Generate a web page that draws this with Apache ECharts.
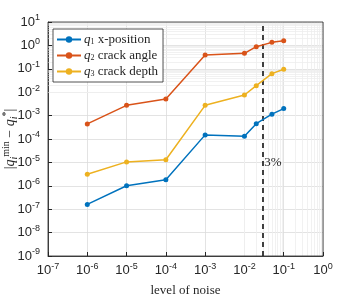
<!DOCTYPE html>
<html><head><meta charset="utf-8">
<script src="https://cdn.jsdelivr.net/npm/echarts@6/dist/echarts.min.js"></script>
<style>html,body{margin:0;padding:0;background:#fff}#c{width:357px;height:298px}</style>
</head><body><div id="c"></div>
<script>
const noise = [1e-6, 1e-5, 1e-4, 1e-3, 1e-2, 0.02, 0.05, 0.1];
const q1 = [1.6e-7, 1.0e-6, 1.8e-6, 1.5e-4, 1.3e-4, 4.5e-4, 1.15e-3, 2.0e-3];
const q2 = [4.4e-4, 2.75e-3, 5.1e-3, 0.39, 0.46, 0.88, 1.35, 1.58];
const q3 = [3.1e-6, 1.05e-5, 1.3e-5, 2.75e-3, 7.6e-3, 0.019, 0.062, 0.095];
const seriesNames = ['q1', 'q2', 'q3'];
const legendText = {q1: ['1', 'x-position'], q2: ['2', 'crack angle'], q3: ['3', 'crack depth']};
const threshold = 0.03;
const thresholdLabel = '3%';
const thresholdLabelY = 1e-5;
const xMin = 1e-7, xMax = 1;
const yMin = 1e-9, yMax = 10;

function minorValues(lo, hi) {
  const out = [];
  for (let e = Math.round(Math.log10(lo)); e < Math.round(Math.log10(hi)); e++) {
    for (let k = 2; k <= 9; k++) out.push(k * Math.pow(10, e));
  }
  return out;
}
const xMinor = minorValues(xMin, xMax);
const yMinor = minorValues(yMin, yMax);

function expLabel(v) {
  const e = Math.round(Math.log10(v));
  return '{b|10}{s|' + e + '}';
}
const tickRich = {
  b: {fontFamily: 'Liberation Sans', fontSize: 13, color: '#262626'},
  s: {fontFamily: 'Liberation Sans', fontSize: 9, color: '#262626', verticalAlign: 'top', padding: [0, 0, 8, 0]}
};
const serif = 'Liberation Serif';
const colors = ['#0072BD', '#D95319', '#EDB120'];

const chart = echarts.init(document.getElementById('c'), null, {renderer: 'canvas'});
chart.setOption({
  animation: false,
  grid: {left: 48, right: 34, top: 22, bottom: 42, containLabel: false, outerBoundsMode: 'none',
    show: true, borderColor: '#262626', borderWidth: 0.8, z: 5},
  xAxis: {
    type: 'log', logBase: 10, min: xMin, max: xMax,
    name: 'level of noise', nameLocation: 'middle', nameGap: 28, nameMoveOverlap: false,
    nameTextStyle: {fontFamily: serif, fontSize: 13, color: '#262626'},
    axisLine: {lineStyle: {color: '#262626', width: 0.8}},
    axisTick: {inside: true, length: 4, lineStyle: {color: '#262626'}},
    axisLabel: {formatter: expLabel, rich: tickRich, margin: 6},
    splitLine: {show: true, lineStyle: {color: '#dcdcdc', width: 0.8}}
  },
  yAxis: {
    type: 'log', logBase: 10, min: yMin, max: yMax,
    name: '{t||}{it|q}{sub|i}{sup|min}{t| − }{it|q}{sub|i}{sup|*}{t||}',
    nameLocation: 'middle', nameGap: 29, nameMoveOverlap: false,
    nameTextStyle: {
      rich: {
        t: {fontFamily: serif, fontSize: 14, color: '#262626'},
        it: {fontFamily: serif, fontStyle: 'italic', fontSize: 14, color: '#262626'},
        sub: {fontFamily: serif, fontStyle: 'italic', fontSize: 10, color: '#262626', verticalAlign: 'bottom', padding: [7, 0, 0, 0]},
        sup: {fontFamily: serif, fontSize: 10, color: '#262626', verticalAlign: 'top', padding: [0, 0, 8, 0]}
      }
    },
    axisLine: {lineStyle: {color: '#262626', width: 0.8}},
    axisTick: {inside: true, length: 4, lineStyle: {color: '#262626'}},
    axisLabel: {formatter: expLabel, rich: tickRich, margin: 8},
    splitLine: {show: true, lineStyle: {color: '#dcdcdc', width: 0.8}}
  },
  legend: {
    data: seriesNames, orient: 'vertical', left: 53, top: 29,
    backgroundColor: '#fff', borderColor: '#262626', borderWidth: 0.8, borderRadius: 0,
    padding: [4, 5, 4, 3], itemGap: 3, itemWidth: 24, itemHeight: 8,
    formatter: n => '{it|q}{sub|' + legendText[n][0] + '} ' + legendText[n][1],
    textStyle: {
      color: '#262626', padding: [0, 0, 0, -2],
      rich: {
        it: {fontFamily: serif, fontStyle: 'italic', fontSize: 13, color: '#262626'},
        sub: {fontFamily: serif, fontSize: 8, color: '#262626', verticalAlign: 'bottom', padding: [5, 0, 0, 0]}
      },
      fontFamily: serif, fontSize: 13
    },
    z: 20
  },
  series: [
    {
      type: 'line', name: '_grid', data: [], silent: true, z: 1,
      markLine: {
        z: 1, silent: true, symbol: 'none', label: {show: false}, animation: false,
        lineStyle: {color: '#eeeeee', width: 0.8, type: 'solid'},
        data: xMinor.map(v => ({xAxis: v})).concat(yMinor.map(v => ({yAxis: v})))
      }
    },
    {
      type: 'line', name: '_thr', data: [], silent: true, z: 3,
      markLine: {
        z: 3, silent: true, symbol: 'none', animation: false,
        lineStyle: {color: '#404040', width: 2, type: [5, 4]},
        label: {show: false},
        data: [{xAxis: threshold}]
      },
      markPoint: {
        z: 3, symbol: 'circle', symbolSize: 0, silent: true,
        label: {show: true, formatter: thresholdLabel, position: 'right', distance: 1, fontFamily: serif, fontSize: 13, color: '#262626'},
        data: [{coord: [threshold, thresholdLabelY]}]
      }
    }
  ].concat([q1, q2, q3].map((d, i) => ({
    type: 'line', name: seriesNames[i], z: 10,
    data: noise.map((x, j) => [x, d[j]]),
    symbol: 'circle', symbolSize: 5, showAllSymbol: true,
    itemStyle: {color: colors[i]},
    lineStyle: {color: colors[i], width: 1.5}
  })))
});
</script></body></html>
